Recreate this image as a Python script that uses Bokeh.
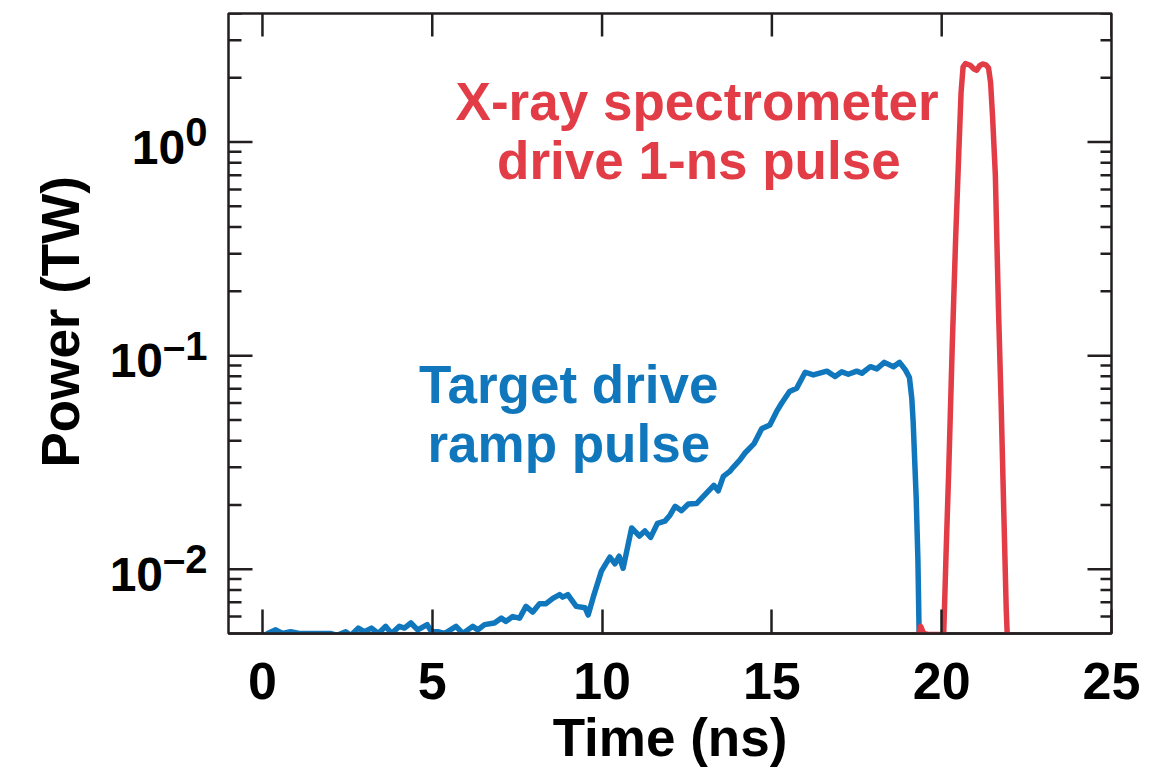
from math import pi

from bokeh.plotting import figure
from bokeh.layouts import row
from bokeh.models import Range1d, FixedTicker, Label
from bokeh.core.properties import value
from bokeh.embed import file_html
from bokeh.resources import INLINE

# ---- data -------------------------------------------------------------
# Target drive ramp pulse: time (ns) and power (TW)
target_time = [
    0.15, 0.39, 0.59, 0.83, 1.08, 1.92, 2.00, 2.20, 2.45, 2.60, 2.82, 3.00,
    3.21, 3.41, 3.63, 3.80, 4.03, 4.18, 4.37, 4.57, 4.85, 4.98, 5.16, 5.36,
    5.70, 5.90, 6.19, 6.34, 6.54, 6.83, 7.03, 7.17, 7.37, 7.57, 7.76, 7.96,
    8.16, 8.35, 8.55, 8.75, 8.84, 8.99, 9.24, 9.50, 9.59, 9.74, 9.98, 10.23,
    10.38, 10.50, 10.62, 10.87, 11.10, 11.26, 11.43, 11.63, 11.85, 12.00,
    12.15, 12.34, 12.54, 12.78, 13.08, 13.29, 13.42, 13.57, 13.76, 13.86,
    14.06, 14.20, 14.47, 14.70, 14.94, 15.14, 15.29, 15.52, 15.73, 15.98,
    16.22, 16.62, 16.86, 17.06, 17.25, 17.50, 17.65, 17.90, 18.09, 18.31,
    18.58, 18.76, 18.93, 19.05, 19.12, 19.16, 19.25, 19.30, 19.34,
]
target_power = [
    0.0050, 0.0052, 0.0050, 0.0051, 0.0050, 0.0050, 0.0050, 0.0049, 0.0051,
    0.0049, 0.0053, 0.0051, 0.0053, 0.0050, 0.0054, 0.0050, 0.0054, 0.0053,
    0.0056, 0.0052, 0.0055, 0.0051, 0.0051, 0.0050, 0.0054, 0.0050, 0.0054,
    0.0052, 0.0055, 0.0056, 0.0059, 0.0057, 0.0060, 0.0059, 0.0067, 0.0063,
    0.0069, 0.0069, 0.0073, 0.0076, 0.0074, 0.0076, 0.0067, 0.0066, 0.0061,
    0.0074, 0.0098, 0.0114, 0.0106, 0.0115, 0.0101, 0.0156, 0.0143, 0.0151,
    0.0141, 0.0164, 0.0168, 0.0179, 0.0197, 0.0188, 0.0202, 0.0203, 0.0228,
    0.0247, 0.0233, 0.0272, 0.0287, 0.0300, 0.0325, 0.0349, 0.0386, 0.0455,
    0.0474, 0.0548, 0.0600, 0.0680, 0.0704, 0.0836, 0.0812, 0.0846, 0.0798,
    0.0840, 0.0818, 0.0846, 0.0827, 0.0888, 0.0867, 0.0930, 0.0888, 0.0930,
    0.0858, 0.0790, 0.0630, 0.0490, 0.0214, 0.0110, 0.0045,
]

# X-ray spectrometer drive 1-ns pulse: time (ns) and power (TW)
xray_time = [
    19.30, 19.38, 19.47, 19.60, 19.80, 20.00, 20.06, 20.13, 20.21, 20.31,
    20.41, 20.50, 20.57, 20.63, 20.70, 20.84, 20.95, 21.03, 21.12, 21.20,
    21.30, 21.38, 21.44, 21.50, 21.58, 21.67, 21.75, 21.82, 21.90, 21.94,
]
xray_power = [
    0.0048, 0.0054, 0.0050, 0.00495, 0.00495, 0.00495, 0.0050, 0.012, 0.030,
    0.110, 0.350, 0.86, 1.70, 2.25, 2.33, 2.29, 2.20, 2.17, 2.28, 2.32,
    2.30, 2.22, 1.90, 1.30, 0.70, 0.17, 0.060, 0.021, 0.0065, 0.0045,
]

# axis ticks
x_ticks = [0, 5, 10, 15, 20, 25]
y_major = [0.01, 0.1, 1.0]
y_minor = [0.006, 0.007, 0.008, 0.009,
           0.02, 0.03, 0.04, 0.05, 0.06, 0.07, 0.08, 0.09,
           0.2, 0.3, 0.4, 0.5, 0.6, 0.7, 0.8, 0.9,
           2.0, 3.0, 4.0]
y_exponents = ["0", "\u20131", "\u20132"]
y_exponent_values = [1.0, 0.1, 0.01]

X_MIN, X_MAX = -1, 25
Y_MIN, Y_MAX = 0.005, 4

# ---- styling ----------------------------------------------------------
BLUE = "#1077BD"
RED = "#E23C46"
INK = "#231F20"
FONT = "Liberation Sans"
TICK_W = 2.5
CURVE_W = 5.5

TOTAL_W, TOTAL_H = 1156, 778
GUTTER_W = 226          # panel holding the y labels, left of the plot
BORDER_TOP, BORDER_BOTTOM = 13, 145

y_range = Range1d(Y_MIN, Y_MAX)

p = figure(
    width=TOTAL_W - GUTTER_W, height=TOTAL_H,
    x_range=Range1d(X_MIN, X_MAX), y_range=y_range,
    y_axis_type="log", y_axis_location=None,
    output_backend="svg", toolbar_location=None,
    min_border_left=2, min_border_right=45,
    min_border_top=BORDER_TOP, min_border_bottom=BORDER_BOTTOM,
)
p.grid.visible = False
p.outline_line_color = INK
p.outline_line_width = 2.5
p.background_fill_color = "white"
p.border_fill_color = "white"

# bottom axis: inward ticks, numeric labels and title
xb = p.xaxis[0]
xb.ticker = FixedTicker(ticks=x_ticks, minor_ticks=[])
xb.axis_line_color = INK
xb.axis_line_width = 2.5
xb.major_tick_line_color = INK
xb.major_tick_line_width = TICK_W
xb.major_tick_in = 24
xb.major_tick_out = 0
xb.minor_tick_line_color = None
xb.major_label_text_font = FONT
xb.major_label_text_font_style = "bold"
xb.major_label_text_font_size = "52px"
xb.major_label_text_color = "black"
xb.major_label_standoff = 29
xb.axis_label = "Time (ns)"
xb.axis_label_text_font = FONT
xb.axis_label_text_font_style = "bold"
xb.axis_label_text_font_size = "53px"
xb.axis_label_text_color = "black"
xb.axis_label_standoff = 6

# inward tick marks along the left, right and top frame edges
y_all = y_major + y_minor
y_len = [24] * len(y_major) + [13] * len(y_minor)
y_len_right = [24] * len(y_major) + [11] * len(y_minor)
p.ray(x=[X_MIN] * len(y_all), y=y_all, length=y_len, length_units="screen",
      angle=0, line_color=INK, line_width=TICK_W)
p.ray(x=[X_MAX] * len(y_all), y=y_all, length=y_len_right,
      length_units="screen", angle=pi, line_color=INK, line_width=TICK_W)
p.ray(x=x_ticks, y=[Y_MAX] * len(x_ticks), length=23, length_units="screen",
      angle=-pi / 2, line_color=INK, line_width=TICK_W)

# ---- curves -----------------------------------------------------------
p.line(target_time, target_power, line_color=BLUE, line_width=CURVE_W,
       line_join="round", line_cap="round")
p.line(xray_time, xray_power, line_color=RED, line_width=CURVE_W,
       line_join="round", line_cap="round")


# ---- annotations ------------------------------------------------------
def note(text, x, y, color, dy=0):
    p.add_layout(Label(
        x=x, y=y, y_offset=dy, text=text,
        text_align="center", text_baseline="alphabetic",
        text_font=FONT, text_font_style="bold",
        text_font_size="53px", text_color=color))


note("X-ray spectrometer", 12.8, 1.22, RED, dy=22)
note("drive 1-ns pulse", 12.85, 1.22, RED, dy=-37)
note("Target drive", 9.02, 0.0592, BLUE, dy=20)
note("ramp pulse", 9.02, 0.0592, BLUE, dy=-39)

# ---- y labels: a panel sharing the power scale, x in pixels ------------
g = figure(
    width=GUTTER_W, height=TOTAL_H,
    x_range=Range1d(0, GUTTER_W), y_range=y_range,
    y_axis_type="log", x_axis_location=None, y_axis_location=None,
    output_backend="svg", toolbar_location=None,
    min_border_left=0, min_border_right=0,
    min_border_top=BORDER_TOP, min_border_bottom=BORDER_BOTTOM,
)
g.grid.visible = False
g.outline_line_color = None
g.background_fill_color = "white"
g.border_fill_color = "white"

LABEL_RIGHT = 207       # right edge of the power-of-ten labels
BASE_SIZE = 48
EXP_SIZE = 40
exp_right = [LABEL_RIGHT] * len(y_exponents)
base_right = [LABEL_RIGHT - 0.556 * EXP_SIZE * len(e) for e in y_exponents]

g.text(x=exp_right, y=y_exponent_values, text=y_exponents,
       text_align="right", text_baseline="middle", y_offset=-10,
       text_font=value(FONT), text_font_style="bold",
       text_font_size=value(f"{EXP_SIZE}px"), text_color="black")
g.text(x=base_right, y=y_exponent_values, text=["10"] * len(y_exponents),
       text_align="right", text_baseline="middle", y_offset=5,
       text_font=value(FONT), text_font_style="bold",
       text_font_size=value(f"{BASE_SIZE}px"), text_color="black")
g.text(x=[60], y=[0.144], text=["Power (TW)"], angle=pi / 2,
       text_align="center", text_baseline="middle",
       text_font=value(FONT), text_font_style="bold",
       text_font_size=value("53px"), text_color="black")

layout = row(g, p, spacing=0)
open("out.html", "w").write(file_html(layout, INLINE))
